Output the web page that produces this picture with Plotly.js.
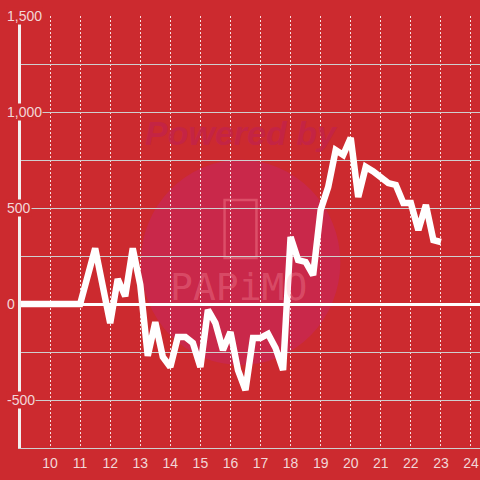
<!DOCTYPE html>
<html>
<head>
<meta charset="utf-8">
<script src="https://cdn.plot.ly/plotly-3.0.1.min.js"></script>
<style>html,body{margin:0;padding:0;background:#cc2a2f;}#chart{width:480px;height:480px;}</style>
</head>
<body>
<div id="chart"></div>
<script>
// Data (hours of day, value)
const times = [9, 11, 11.5, 12, 12.25, 12.5, 12.75, 13, 13.25, 13.5, 13.75, 14, 14.25, 14.5, 14.75, 15, 15.25, 15.5, 15.75, 16, 16.25, 16.5, 16.75, 17, 17.25, 17.5, 17.75, 18, 18.25, 18.5, 18.75, 19, 19.25, 19.5, 19.75, 20, 20.25, 20.5, 20.75, 21, 21.25, 21.5, 21.75, 22, 22.25, 22.5, 22.75, 23];
const values = [0, 0, 290, -100, 130, 40, 290, 100, -270, -95, -276, -328, -172, -172, -203, -328, -31, -99, -240, -146, -344, -448, -177, -177, -156, -229, -344, 349, 229, 219, 151, 490, 609, 802, 776, 865, 557, 714, 690, 660, 630, 620, 526, 526, 385, 516, 333, 323];
const xTickVals = [10, 11, 12, 13, 14, 15, 16, 17, 18, 19, 20, 21, 22, 23, 24];
const yTickVals = [-500, 0, 500, 1000, 1500];
const yTickText = ['-500', '0', '500', '1,000', '1,500'];

const BG = '#cc2a2f';
const LABEL = '#f2d6d7';
const FONT = 'Liberation Sans, Arial, sans-serif';

const trace = {
  x: times, y: values, type: 'scatter', mode: 'lines',
  line: {color: '#ffffff', width: 6.5},
  hoverinfo: 'skip', showlegend: false
};

const annotations = yTickVals.map((v, i) => ({
  xref: 'paper', yref: 'y', x: -0.033, y: v,
  xanchor: 'left', yanchor: 'middle',
  text: yTickText[i], showarrow: false,
  font: {family: FONT, size: 14, color: LABEL},
  bgcolor: BG, borderpad: 0
}));

annotations.push({
  xref: 'paper', yref: 'paper', x: 0.48, y: 0.729, xanchor: 'center', yanchor: 'middle',
  text: 'Powered by', showarrow: false,
  font: {family: FONT, size: 34, color: 'rgba(195,36,72,0.9)', weight: 'bold', style: 'italic'}
});
annotations.push({
  xref: 'paper', yref: 'paper', x: 0.474, y: 0.373, xanchor: 'center', yanchor: 'middle',
  text: 'PAPiMO', showarrow: false,
  font: {family: 'DejaVu Sans Mono, monospace', size: 38, color: 'rgba(255,160,170,0.3)'}
});

const layout = {
  width: 480, height: 480,
  margin: {l: 21, r: 0, t: 16, b: 32, pad: 0},
  paper_bgcolor: BG, plot_bgcolor: BG,
  showlegend: false,
  xaxis: {
    range: [9.033, 24.3], tickvals: xTickVals, ticktext: xTickVals.map(String),
    showgrid: true, gridcolor: 'rgba(255,255,255,0.85)', gridwidth: 1, griddash: '2px,2px',
    zeroline: false, showline: true, linecolor: '#cfcfcf', linewidth: 1,
    ticks: '', ticklabelstandoff: 2, tickfont: {family: FONT, size: 14, color: LABEL}
  },
  yaxis: {
    range: [-750, 1500], tick0: 0, dtick: 250,
    showticklabels: false, ticks: '',
    showgrid: true, gridcolor: '#cfcfcf', gridwidth: 1,
    zeroline: true, zerolinecolor: '#ffffff', zerolinewidth: 3,
    showline: true, linecolor: '#f4f0f0', linewidth: 3
  },
  shapes: [
    {type: 'circle', xref: 'paper', yref: 'paper', layer: 'below',
     x0: 0.2609, x1: 0.6957, y0: 0.192, y1: 0.667,
     fillcolor: '#c9284a', line: {width: 0}},
    {type: 'rect', xref: 'paper', yref: 'paper', layer: 'below',
     x0: 0.4435, x1: 0.513, y0: 0.44, y1: 0.574,
     fillcolor: 'rgba(0,0,0,0)', line: {color: 'rgba(255,150,160,0.35)', width: 2.5}}
  ],
  annotations: annotations
};

Plotly.newPlot('chart', [trace], layout, {displayModeBar: false, staticPlot: true});
</script>
</body>
</html>
